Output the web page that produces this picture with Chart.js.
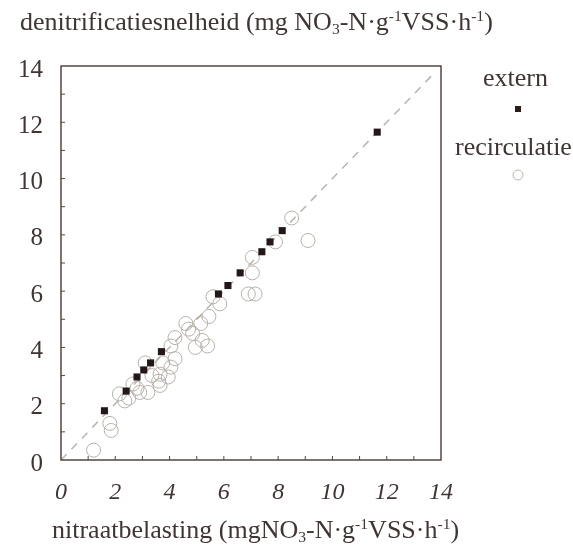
<!DOCTYPE html>
<html>
<head>
<meta charset="utf-8">
<script src="https://cdn.jsdelivr.net/npm/chart.js@4/dist/chart.umd.min.js"></script>
<style>
  body { margin: 0; background: #fff; }
  #wrap { position: relative; width: 573px; height: 552px; overflow: hidden; }
  .lbl { position: absolute; font-family: "Liberation Serif", "DejaVu Serif", serif; color: #3f3532; white-space: nowrap; line-height: 30px; }
  .lbl sub, .lbl sup { font-size: 60%; line-height: 0; }
  .lbl sub { vertical-align: -0.25em; }
  .lbl sup { vertical-align: 0.6em; }
</style>
</head>
<body>
<div id="wrap">
  <canvas id="denitChart" width="573" height="552"></canvas>
  <div class="lbl" id="yTitle" style="left:20px; top:7px; font-size:26px;">denitrificatiesnelheid (mg NO<sub>3</sub>-N·g<sup>-1</sup>VSS·h<sup>-1</sup>)</div>
  <div class="lbl" id="xTitle" style="left:52px; top:515px; font-size:26px;">nitraatbelasting (mgNO<sub>3</sub>-N·g<sup>-1</sup>VSS·h<sup>-1</sup>)</div>
  <div class="lbl" style="left:483px; top:63px; font-size:26px;">extern</div>
  <div class="lbl" style="left:455px; top:132px; font-size:26px;">recirculatie</div>
</div>
<script>
// extern (filled squares)
const externX = [1.6, 2.4, 2.8, 3.05, 3.3, 3.7, 5.8, 6.15, 6.6, 7.4, 7.7, 8.15, 11.65];
const externY = [1.75, 2.45, 2.95, 3.2, 3.45, 3.85, 5.9, 6.2, 6.65, 7.4, 7.75, 8.15, 11.65];

// recirculatie (open circles)
const recircX = [1.2, 1.8, 1.85, 2.15, 2.5, 2.9, 2.65, 3.2, 3.35, 3.1, 3.6, 3.65, 3.95, 4.05, 4.2,
                 4.05, 4.2, 4.7, 4.85, 4.95, 5.2, 5.4, 5.15, 5.45, 5.85, 5.6, 6.9, 7.15, 7.05, 7.05,
                 7.9, 8.5, 9.1, 3.75, 2.35, 2.8, 3.65, 4.6];
const recircY = [0.35, 1.3, 1.05, 2.35, 2.2, 2.4, 2.7, 2.4, 3.0, 3.45, 2.8, 2.65, 2.95, 3.3, 3.6,
                 4.05, 4.35, 4.65, 4.5, 4.0, 4.25, 4.05, 4.85, 5.1, 5.55, 5.8, 5.9, 5.9, 6.65, 7.2,
                 7.75, 8.6, 7.8, 3.45, 2.1, 2.55, 3.05, 4.85];

// 1:1 line
const lineX = [0, 13.8];
const lineY = [0, 13.8];

const tickLabels = ['0', '2', '4', '6', '8', '10', '12', '14'];

const ink = '#3f3532';
const axisInk = '#54463f';

const toPoints = (xs, ys) => xs.map((x, i) => ({ x: x, y: ys[i] }));

// frame on all four sides plus inward tick marks every unit
const frameTicks = {
    id: 'frameTicks',
    afterDraw(chart) {
        const { ctx, chartArea: a, scales } = chart;
        ctx.save();
        ctx.strokeStyle = axisInk;
        ctx.lineWidth = 1.5;
        ctx.strokeRect(a.left, a.top, a.right - a.left, a.bottom - a.top);
        ctx.lineWidth = 1;
        for (let v = 1; v < 14; v++) {
            const px = scales.x.getPixelForValue(v);
            ctx.beginPath();
            ctx.moveTo(px, a.bottom);
            ctx.lineTo(px, a.bottom - 4);
            ctx.stroke();
            const py = scales.y.getPixelForValue(v);
            ctx.beginPath();
            ctx.moveTo(a.left, py);
            ctx.lineTo(a.left + 4, py);
            ctx.stroke();
        }
        // legend markers
        ctx.fillStyle = '#2a1c1a';
        ctx.fillRect(515, 106, 6, 6);
        ctx.strokeStyle = '#bcb8b0';
        ctx.beginPath();
        ctx.arc(518, 175, 5, 0, Math.PI * 2);
        ctx.stroke();
        ctx.restore();
    }
};

const ctx = document.getElementById('denitChart').getContext('2d');

const tickCb = function(value) {
    return value % 2 === 0 ? tickLabels[value / 2] : '';
};

const denitChart = new Chart(ctx, {
    type: 'scatter',
    data: {
        datasets: [
            {
                label: 'extern',
                data: toPoints(externX, externY),
                pointStyle: 'rect',
                pointRadius: 5,
                backgroundColor: '#24171a',
                borderColor: '#24171a',
                borderWidth: 0,
                order: 1
            },
            {
                label: 'recirculatie',
                data: toPoints(recircX, recircY),
                pointStyle: 'circle',
                pointRadius: 7,
                backgroundColor: 'rgba(0,0,0,0)',
                borderColor: '#b6b2a9',
                borderWidth: 1,
                order: 2
            },
            {
                type: 'line',
                label: '1:1',
                data: toPoints(lineX, lineY),
                borderColor: '#b8b4aa',
                borderWidth: 1.5,
                borderDash: [8, 7],
                pointRadius: 0,
                fill: false,
                order: 3
            }
        ]
    },
    options: {
        responsive: false,
        animation: false,
        layout: { padding: { top: 66, right: 132, left: 0, bottom: 0 } },
        plugins: {
            legend: { display: false },
            tooltip: { enabled: false }
        },
        scales: {
            x: {
                type: 'linear',
                min: 0,
                max: 14,
                afterFit: (scale) => { scale.height = 92; },
                border: { display: false },
                grid: { display: false, drawTicks: false },
                ticks: {
                    stepSize: 1,
                    autoSkip: false,
                    maxRotation: 0,
                    padding: 18,
                    color: ink,
                    font: { family: 'Liberation Serif', size: 24, style: 'italic' },
                    callback: tickCb
                }
            },
            y: {
                type: 'linear',
                min: 0,
                max: 14,
                afterFit: (scale) => { scale.width = 61; },
                border: { display: false },
                grid: { display: false, drawTicks: false },
                ticks: {
                    stepSize: 1,
                    autoSkip: false,
                    padding: 18,
                    labelOffset: 4,
                    color: ink,
                    font: { family: 'Liberation Serif', size: 25 },
                    callback: tickCb
                }
            }
        }
    },
    plugins: [frameTicks]
});
</script>
</body>
</html>
